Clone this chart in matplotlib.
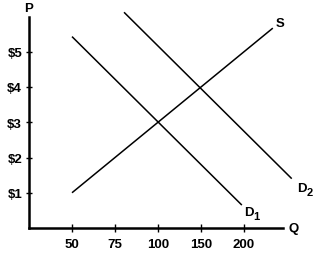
import matplotlib
matplotlib.use("Agg")
import matplotlib.pyplot as plt

plt.rcParams['font.family'] = ['Liberation Sans', 'DejaVu Sans']

# Quantity tick labels (equally spaced on the original chart)
q_labels = ["50", "75", "100", "150", "200"]
q_positions = [1, 2, 3, 4, 5]
p_labels = ["$1", "$2", "$3", "$4", "$5"]
p_values = [1, 2, 3, 4, 5]

# Curves in (tick-position, price) units
s_x = [1.0, 5.67]
s_y = [1.0, 5.67]
d1_x = [1.0, 4.95]
d1_y = [5.43, 0.65]
d2_x = [2.21, 6.11]
d2_y = [6.12, 1.40]

fig = plt.figure(figsize=(3.21, 2.55), dpi=100)
W, H = 321, 255
x0_px, y0_px = 29, 229
sx, sy = 43.0, 35.25
xmax, ymax = 6.6, 6.4
ax = fig.add_axes([x0_px / W, (H - y0_px) / H, xmax * sx / W, ymax * sy / H])
ax.set_xlim(0, xmax)
ax.set_ylim(0, ymax)

lw = 1.1
ax.plot(s_x, s_y, color='black', lw=lw, solid_capstyle='butt')
ax.plot(d1_x, d1_y, color='black', lw=lw, solid_capstyle='butt')
ax.plot(d2_x, d2_y, color='black', lw=lw, solid_capstyle='butt')

for side in ['top', 'right']:
    ax.spines[side].set_visible(False)
ax.spines['left'].set_linewidth(1.8)
ax.spines['bottom'].set_linewidth(1.8)
ax.spines['left'].set_bounds(0, 5.99)
ax.spines['bottom'].set_bounds(0, 5.9)

fs = 9.5
ax.set_xticks(q_positions)
ax.set_xticklabels(q_labels, fontweight='bold')
ax.set_yticks(p_values)
ax.set_yticklabels(p_labels, fontweight='bold')
ax.tick_params(axis='x', direction='inout', length=6, width=1.0, pad=4.5, labelsize=fs)
ax.tick_params(axis='y', direction='inout', length=5, width=1.0, pad=2.5, labelsize=fs)

kw = dict(ha='center', va='center', fontsize=fs, fontweight='bold', clip_on=False)
sub = dict(ha='center', va='center', fontsize=8, fontweight='bold', clip_on=False)
ax.text(-0.02, 6.24, "P", **kw)
ax.text(6.16, 0.0, "Q", **kw)
ax.text(5.84, 5.82, "S", **kw)
ax.text(5.12, 0.46, "D", **kw)
ax.text(5.29, 0.35, "1", **sub)
ax.text(6.34, 1.13, "D", **kw)
ax.text(6.52, 1.01, "2", **sub)

fig.savefig("out.png", dpi=100)
